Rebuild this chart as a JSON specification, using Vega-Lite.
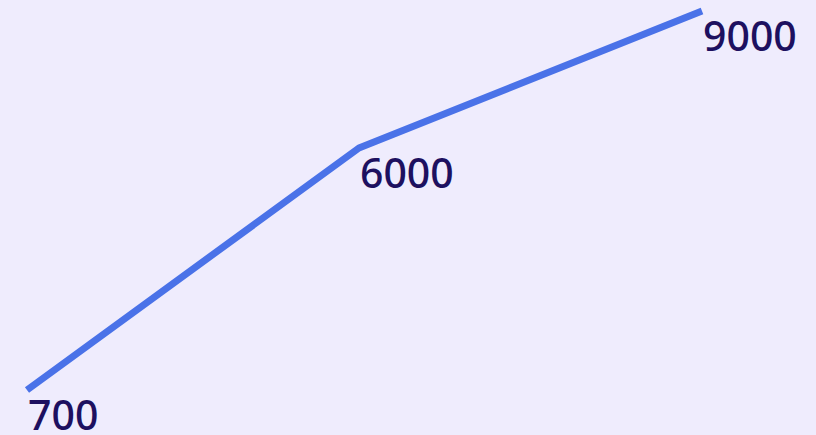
{
  "$schema": "https://vega.github.io/schema/vega-lite/v6.json",
  "autosize": "none",
  "width": 675,
  "height": 379,
  "padding": {"left": 27, "top": 11, "right": 114, "bottom": 45},
  "background": "#efecfd",
  "config": {"view": {"stroke": null}},
  "data": {"values": [
    {"date": "2020-04-01", "value": 700},
    {"date": "2020-05-01", "value": 6000},
    {"date": "2020-06-01", "value": 9000}
  ]},
  "encoding": {
    "x": {"field": "date", "type": "temporal", "axis": null, "scale": {"nice": false, "padding": 0}},
    "y": {"field": "value", "type": "quantitative", "axis": null, "scale": {"domain": [700, 9000], "zero": false, "nice": false}}
  },
  "layer": [
    {"mark": {"type": "line", "color": "#4a72e8", "strokeWidth": 7, "strokeCap": "butt", "strokeJoin": "round"}},
    {"mark": {"type": "text", "align": "left", "baseline": "top", "dx": 1, "dy": 8, "font": "Noto Sans", "fontSize": 41, "fontWeight": 500, "color": "#1d1060"},
     "encoding": {"text": {"field": "value", "type": "quantitative", "format": "d"}}}
  ]
}
